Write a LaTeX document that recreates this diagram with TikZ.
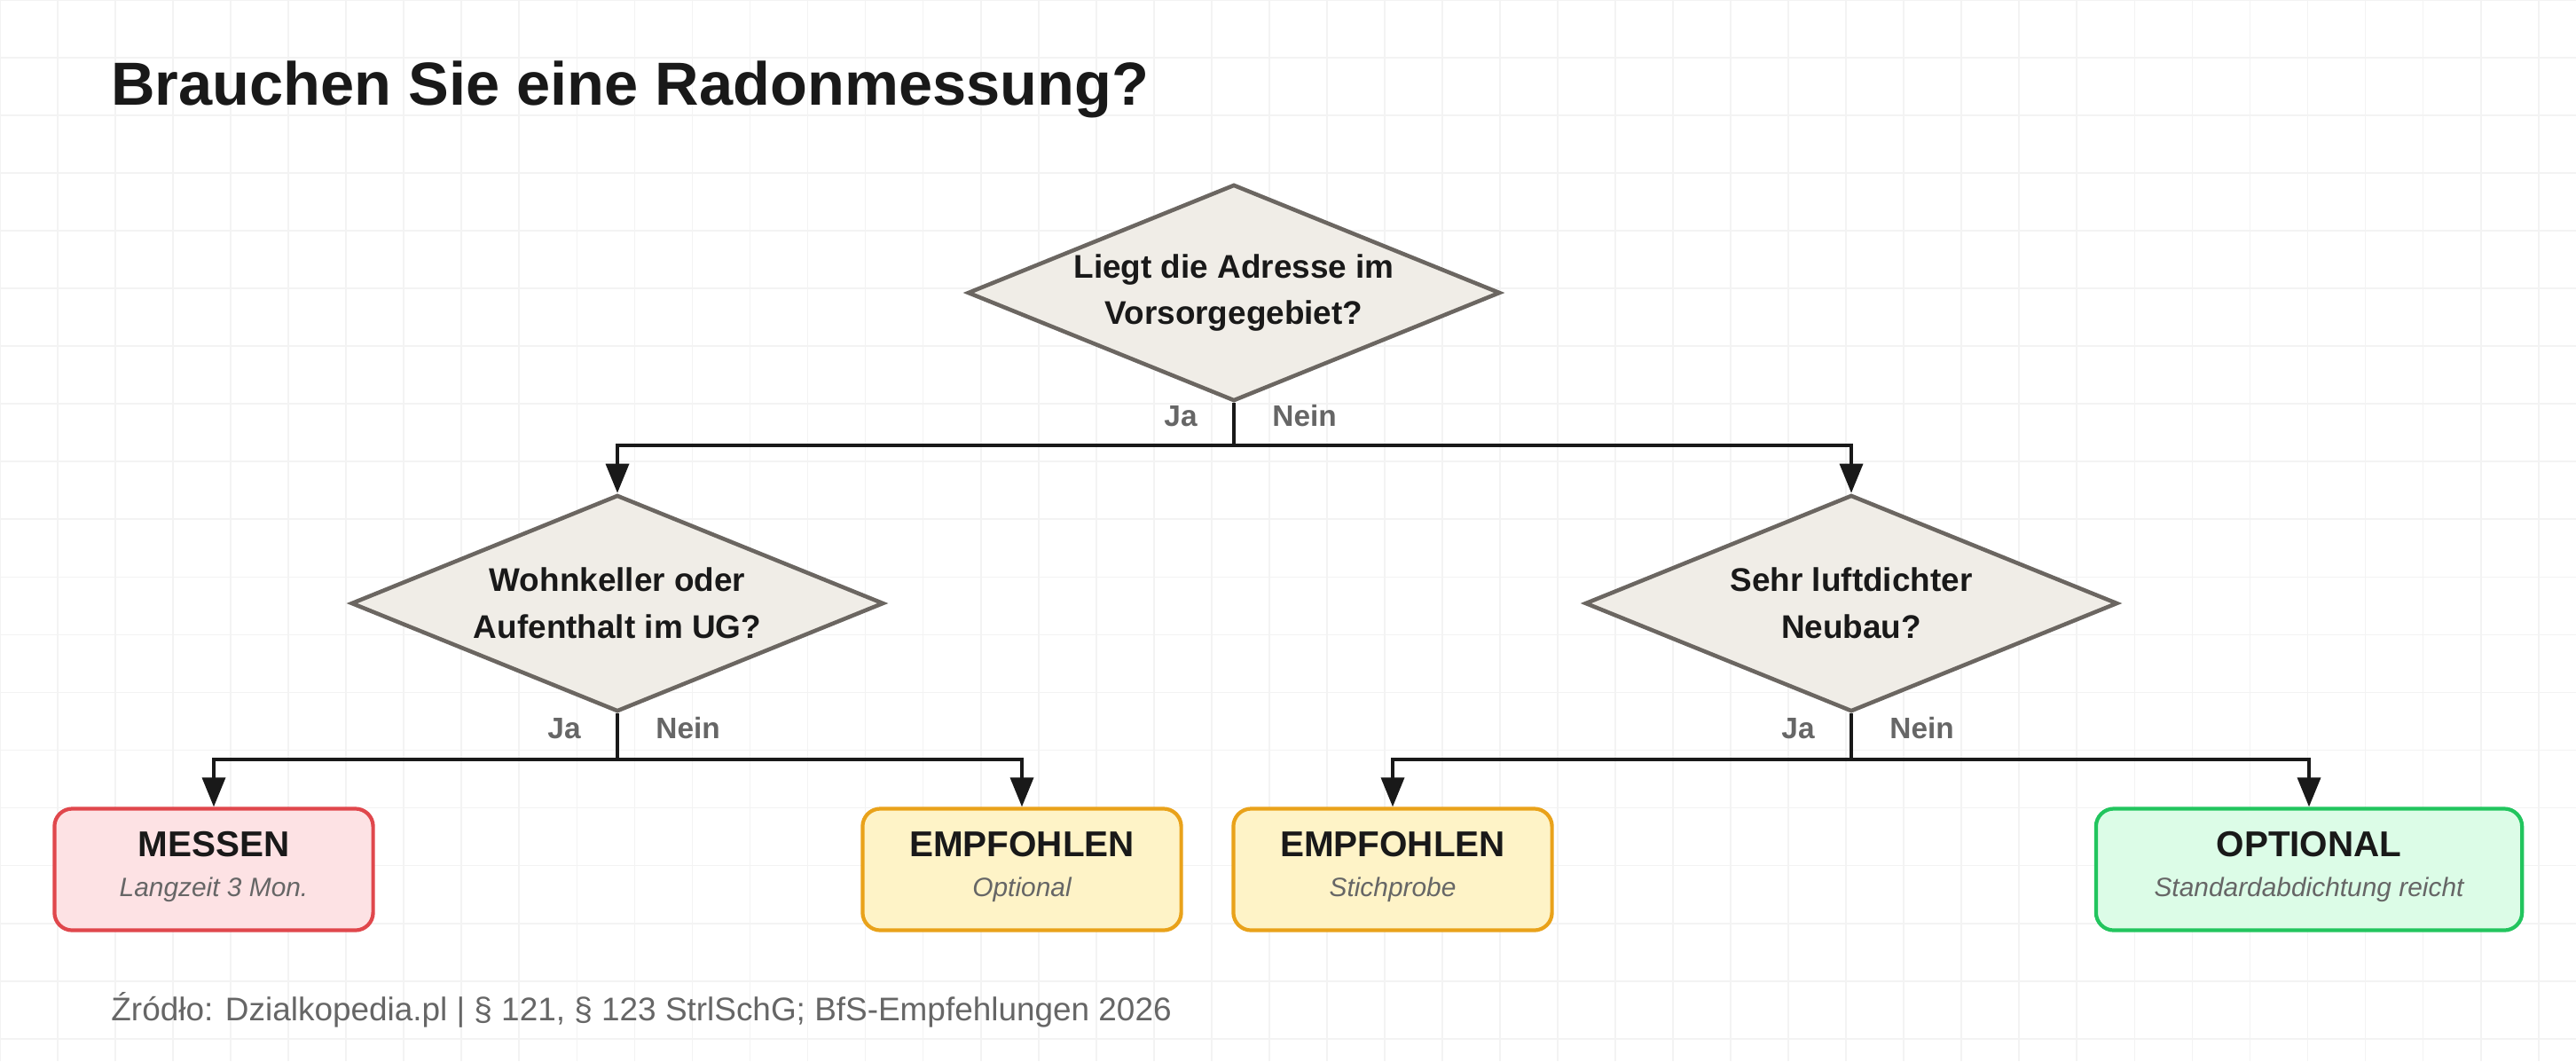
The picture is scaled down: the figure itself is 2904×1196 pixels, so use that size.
\documentclass[tikz,border=0pt]{standalone}
\usepackage{fontspec}
\setmainfont{Liberation Sans}
\usetikzlibrary{shapes.geometric,arrows.meta,positioning,calc}

\definecolor{qfill}{HTML}{F0EDE7}
\definecolor{qdraw}{HTML}{6B6661}
\definecolor{redf}{HTML}{FDE2E4}
\definecolor{redd}{HTML}{E0474C}
\definecolor{yelf}{HTML}{FEF3C7}
\definecolor{yeld}{HTML}{E9A21A}
\definecolor{grnf}{HTML}{DCFCE7}
\definecolor{grnd}{HTML}{22C55E}
\definecolor{labgray}{HTML}{666666}
\definecolor{gridc}{HTML}{F3F3F3}

\tikzset{
  question/.style={diamond, draw=qdraw, fill=qfill, line width=1.3pt, inner sep=0pt,
    shape aspect=2.46, minimum width=6cm, minimum height=2.44cm, align=center,
    font=\bfseries\fontsize{10.5}{15}\selectfont, text=black!90},
  result/.style={draw=#1d, fill=#1f, line width=1.2pt, rounded corners=0.2cm,
    minimum width=3.59cm, minimum height=1.37cm},
  rtitle/.style={font=\bfseries\fontsize{11.5}{13}\selectfont, text=black!90},
  rsub/.style={font=\itshape\fontsize{8.5}{10}\selectfont, text=labgray},
  yesno/.style={font=\bfseries\fontsize{9.5}{11}\selectfont, text=labgray},
  conn/.style={line width=1pt, black!90},
  arr/.style={conn, -{Triangle[length=0.33cm,width=0.26cm]}}
}

\begin{document}
\begin{tikzpicture}[x=0.01cm, y=-0.01cm]
\fill[white] (0,0) rectangle (2904,1196);
\useasboundingbox (0,0) rectangle (2904,1196);
\draw[gridc, line width=0.5pt, step=0.65cm] (0,0) grid (2904,1196);

% Titel
\node[anchor=base west, font=\bfseries\fontsize{19.5}{22}\selectfont, text=black!90] (title) at (113,118) {Brauchen Sie eine Radonmessung?};

% Fragen
\node[question] (q1) at (1391,330) {Liegt die Adresse im\\Vorsorgegebiet?};
\node[question] (q2) at (696,680) {Wohnkeller oder\\Aufenthalt im UG?};
\node[question] (q3) at (2087,680) {Sehr luftdichter\\Neubau?};

% Ergebnisse
\node[result=red] (messen) at (241,980) {};
\node[rtitle] at (241,952) {MESSEN};
\node[rsub] at (241,1003) {Langzeit 3 Mon.};
\node[result=yel] (empf1) at (1152,980) {};
\node[rtitle] at (1152,952) {EMPFOHLEN};
\node[rsub] at (1152,1003) {Optional};
\node[result=yel] (empf2) at (1570,980) {};
\node[rtitle] at (1570,952) {EMPFOHLEN};
\node[rsub] at (1570,1003) {Stichprobe};
\node[result=grn, minimum width=4.8cm] (opt) at (2603,980) {};
\node[rtitle] at (2603,952) {OPTIONAL};
\node[rsub] at (2603,1003) {Standardabdichtung reicht};

% Verbindungen
\coordinate (j1) at (1391,502);
\coordinate (j2) at (696,856);
\coordinate (j3) at (2087,856);
\draw[conn] (q1.south) -- (j1);
\draw[arr] (j1) -| (q2.north);
\draw[arr] (j1) -| (q3.north);
\draw[conn] (q2.south) -- (j2);
\draw[arr] (j2) -| (messen.north);
\draw[arr] (j2) -| (empf1.north);
\draw[conn] (q3.south) -- (j3);
\draw[arr] (j3) -| (empf2.north);
\draw[arr] (j3) -| (opt.north);

% Ja / Nein
\node[yesno, anchor=east] at (1362,469) {Ja};
\node[yesno, anchor=west] at (1422,469) {Nein};
\node[yesno, anchor=east] at (667,821) {Ja};
\node[yesno, anchor=west] at (727,821) {Nein};
\node[yesno, anchor=east] at (2058,821) {Ja};
\node[yesno, anchor=west] at (2118,821) {Nein};

% Quelle
\node[anchor=base west, font=\fontsize{10.5}{13}\selectfont, text=labgray] (src) at (113,1150)
  {Źródło: Dzialkopedia.pl | § 121, § 123 StrlSchG; BfS-Empfehlungen 2026};
\end{tikzpicture}
\end{document}
